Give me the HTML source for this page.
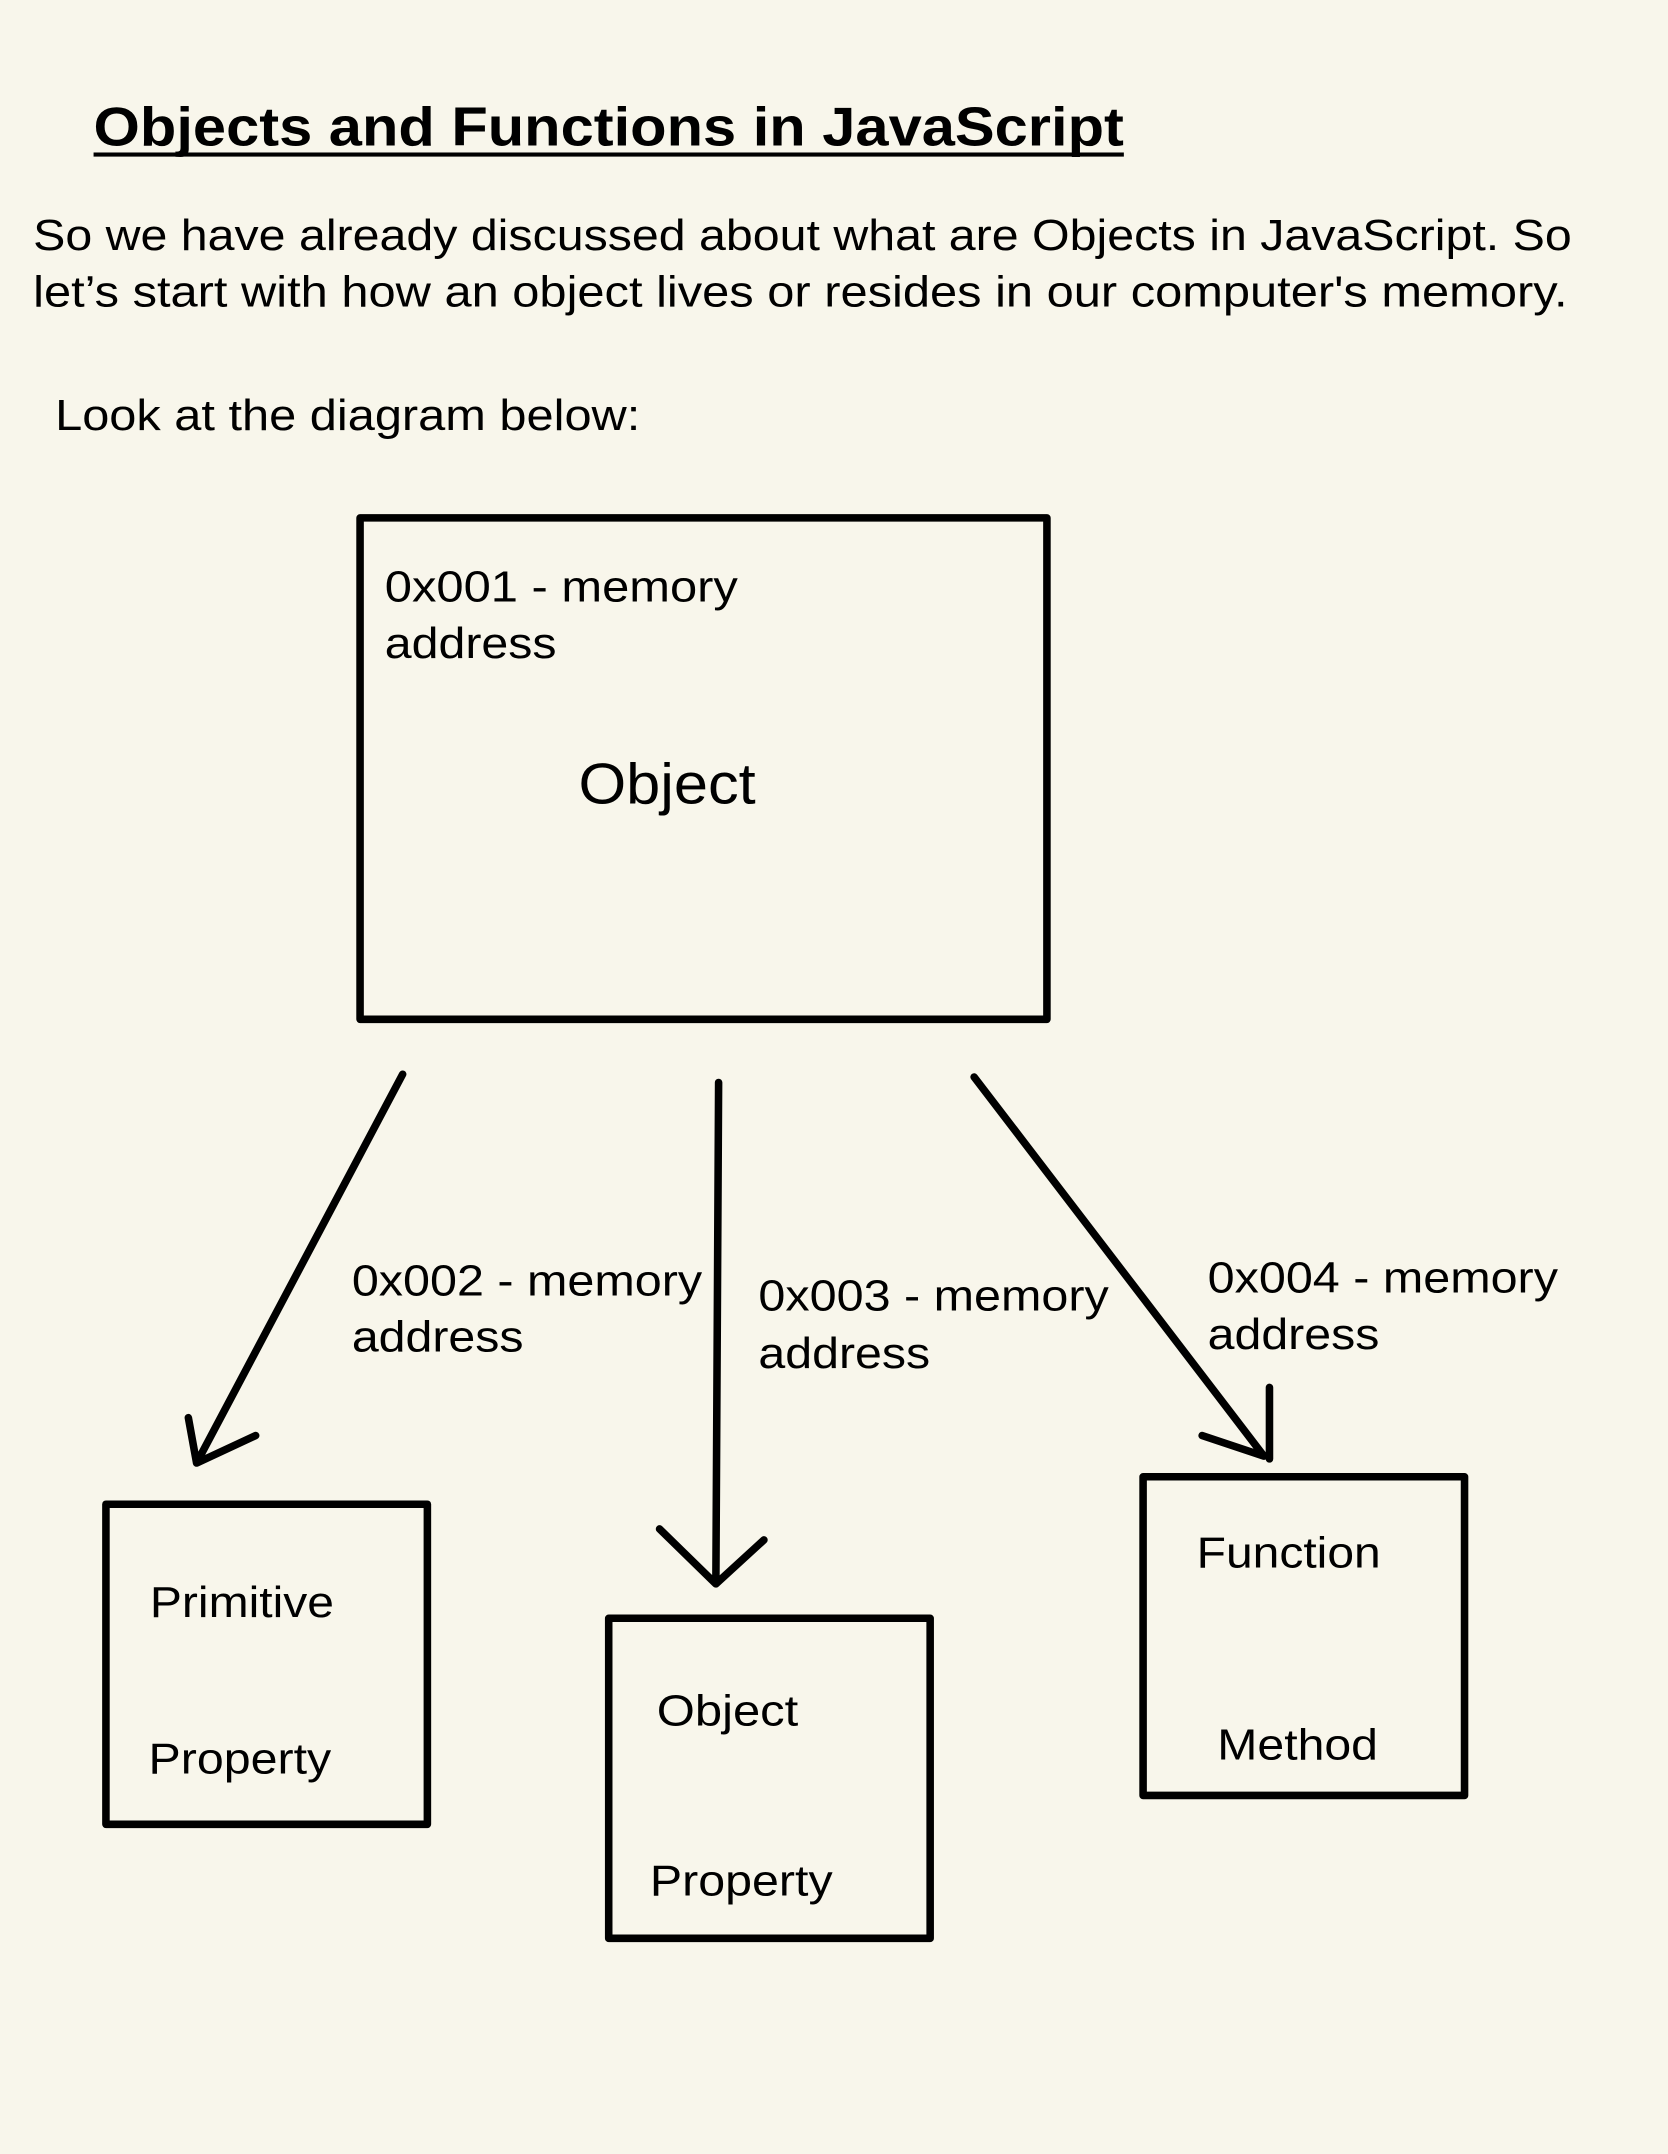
<!DOCTYPE html>
<html><head><style>
html,body{margin:0;padding:0;background:#f8f6eb;}
svg{display:block;}
text{font-family:"Liberation Sans",Arial,sans-serif;fill:#000;}
</style></head><body>
<svg width="1668" height="2154" viewBox="0 0 1214 1568" xmlns="http://www.w3.org/2000/svg">
<rect width="1214" height="1568" fill="#f8f6eb"/>
<text x="68" y="106" font-size="40" font-weight="bold" textLength="750" lengthAdjust="spacingAndGlyphs">Objects and Functions in JavaScript</text>
<rect x="68" y="111" width="750" height="3" fill="#000"/>
<text x="24" y="182" font-size="32" textLength="1120" lengthAdjust="spacingAndGlyphs">So we have already discussed about what are Objects in JavaScript. So</text>
<text x="24" y="223" font-size="32" textLength="1117" lengthAdjust="spacingAndGlyphs">let’s start with how an object lives or resides in our computer's memory.</text>
<text x="40" y="313" font-size="32" textLength="426" lengthAdjust="spacingAndGlyphs">Look at the diagram below:</text>
<g fill="none" stroke="#000" stroke-width="5.5" stroke-linecap="round" stroke-linejoin="round">
<rect x="262" y="377" width="500" height="365"/>
<rect x="77" y="1095" width="234" height="233"/>
<rect x="443" y="1178" width="234" height="233"/>
<rect x="832" y="1075" width="234" height="232"/>
<path d="M293 782 L143 1065 M137 1032 L143 1065 L186 1045"/>
<path d="M523 788 L521 1153 M480 1113 L521 1153 L556 1121"/>
<path d="M709 784 L920 1060 M875 1045 L920 1060 M924 1010 L924 1062"/>
</g>
<g font-size="32" lengthAdjust="spacingAndGlyphs">
<text x="280" y="438" textLength="257" lengthAdjust="spacingAndGlyphs">0x001 - memory</text>
<text x="280" y="479" textLength="125" lengthAdjust="spacingAndGlyphs">address</text>
<text x="421" y="585" font-size="42" textLength="129" lengthAdjust="spacingAndGlyphs">Object</text>
<text x="256" y="943" textLength="255" lengthAdjust="spacingAndGlyphs">0x002 - memory</text>
<text x="256" y="984" textLength="125" lengthAdjust="spacingAndGlyphs">address</text>
<text x="552" y="954" textLength="255" lengthAdjust="spacingAndGlyphs">0x003 - memory</text>
<text x="552" y="996" textLength="125" lengthAdjust="spacingAndGlyphs">address</text>
<text x="879" y="941" textLength="255" lengthAdjust="spacingAndGlyphs">0x004 - memory</text>
<text x="879" y="982" textLength="125" lengthAdjust="spacingAndGlyphs">address</text>
<text x="109" y="1177" textLength="134" lengthAdjust="spacingAndGlyphs">Primitive</text>
<text x="108" y="1291" textLength="133" lengthAdjust="spacingAndGlyphs">Property</text>
<text x="478" y="1256" textLength="103" lengthAdjust="spacingAndGlyphs">Object</text>
<text x="473" y="1380" textLength="133" lengthAdjust="spacingAndGlyphs">Property</text>
<text x="871" y="1141" textLength="134" lengthAdjust="spacingAndGlyphs">Function</text>
<text x="886" y="1281" textLength="117" lengthAdjust="spacingAndGlyphs">Method</text>
</g>
</svg>
</body></html>
